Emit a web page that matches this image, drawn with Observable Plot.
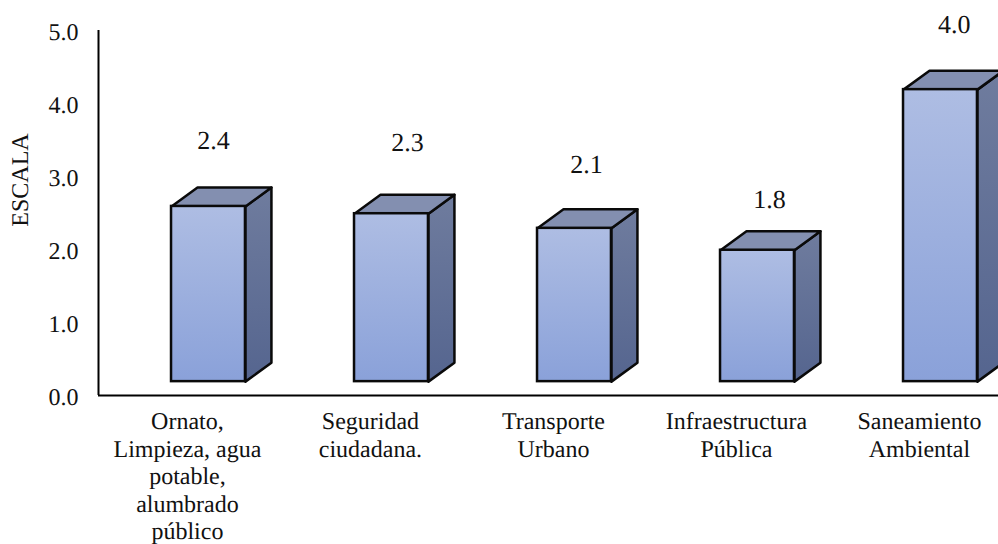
<!DOCTYPE html>
<html>
<head>
<meta charset="utf-8">
<script src="https://cdn.jsdelivr.net/npm/d3@7"></script>
<script src="https://cdn.jsdelivr.net/npm/@observablehq/plot@0.6"></script>
<style>
  html, body { margin: 0; padding: 0; background: #fff; }
  svg { display: block; text-rendering: geometricPrecision; }
</style>
</head>
<body>
<div id="chart"></div>
<script>
// Survey scores by service area
const categories = [
  "Ornato,\nLimpieza, agua\npotable,\nalumbrado\npúblico",
  "Seguridad\nciudadana.",
  "Transporte\nUrbano",
  "Infraestructura\nPública",
  "Saneamiento\nAmbiental"
];
const scores = [2.4, 2.3, 2.1, 1.8, 4.0];

// Box construction, in axis units: each box floats just above the baseline
const floorLevel = 0.19;
const frontLeft = -0.087, frontRight = 0.317;
const depthX = 0.142, depthY = 0.26;

// Hand placement of the value labels relative to each box
const labelLiftY = [0.90, 0.97, 0.87, 0.69, 0.89];
const labelShiftX = [0.142, 0.202, 0.18, 0.18, 0.19];

const rows = scores.map((v, i) => ({i, v, top: floorLevel + v, left: i + frontLeft, right: i + frontRight}));

const topFaces = rows.flatMap(d => [
  {id: d.i, x: d.left, y: d.top},
  {id: d.i, x: d.right, y: d.top},
  {id: d.i, x: d.right + depthX, y: d.top + depthY},
  {id: d.i, x: d.left + depthX, y: d.top + depthY}
]);
const sideFaces = rows.flatMap(d => [
  {id: d.i, x: d.right, y: floorLevel},
  {id: d.i, x: d.right + depthX, y: floorLevel + depthY},
  {id: d.i, x: d.right + depthX, y: d.top + depthY},
  {id: d.i, x: d.right, y: d.top}
]);

// Vertical gradients shared by the box faces
const gradient = (id, from, to) => `<linearGradient id="${id}" x1="0" y1="0" x2="0" y2="1">
  <stop offset="0" stop-color="${from}"/><stop offset="1" stop-color="${to}"/></linearGradient>`;
const gradients = () => {
  const defs = document.createElementNS("http://www.w3.org/2000/svg", "defs");
  defs.innerHTML = gradient("frontFill", "#aebde3", "#8aa1d9") + gradient("sideFill", "#6f7c9e", "#55658f");
  return defs;
};

const ink = "#111";
const edge = "#0a0a0a";
const serif = "'Liberation Serif', 'Times New Roman', serif";

const chart = Plot.plot({
  width: 998,
  height: 544,
  marginLeft: 98,
  marginRight: 0,
  marginTop: 30,
  marginBottom: 149,
  style: {fontFamily: serif, fontSize: "24px", color: ink, background: "#fff"},
  x: {type: "linear", domain: [-0.486, 4.432]},
  y: {domain: [0, 5]},
  marks: [
    gradients,
    Plot.line(sideFaces, {x: "x", y: "y", z: "id", curve: "linear-closed", fill: "url(#sideFill)", stroke: edge, strokeWidth: 2.5}),
    Plot.line(topFaces, {x: "x", y: "y", z: "id", curve: "linear-closed", fill: "#838fb0", stroke: edge, strokeWidth: 2.5}),
    Plot.rect(rows, {x1: "left", x2: "right", y1: floorLevel, y2: "top", fill: "url(#frontFill)", stroke: edge, strokeWidth: 2.5}),
    Plot.ruleX([-0.486], {y1: 0, y2: 5, stroke: "#000", strokeWidth: 2}),
    Plot.ruleY([0], {stroke: "#000", strokeWidth: 2}),
    Plot.axisY({
      ticks: [0, 1, 2, 3, 4, 5],
      tickSize: 0,
      tickPadding: 20,
      tickFormat: d3.format(".1f"),
      label: null,
      fontSize: 24,
      dy: 1.5
    }),
    Plot.text(["ESCALA"], {
      frameAnchor: "left",
      textAnchor: "middle",
      dx: -78,
      dy: -33,
      rotate: -90,
      fontSize: 24
    }),
    Plot.axisX({
      ticks: [0, 1, 2, 3, 4],
      tickSize: 0,
      tickFormat: i => categories[i],
      label: null,
      fontSize: 24,
      lineHeight: 1.15,
      lineAnchor: "top",
      tickPadding: 14
    }),
    Plot.text(rows, {
      x: d => d.i + labelShiftX[d.i],
      y: d => d.top + labelLiftY[d.i],
      text: d => d3.format(".1f")(d.v),
      fontSize: 26,
      fill: ink
    })
  ]
});

document.getElementById("chart").append(chart);
</script>
</body>
</html>
